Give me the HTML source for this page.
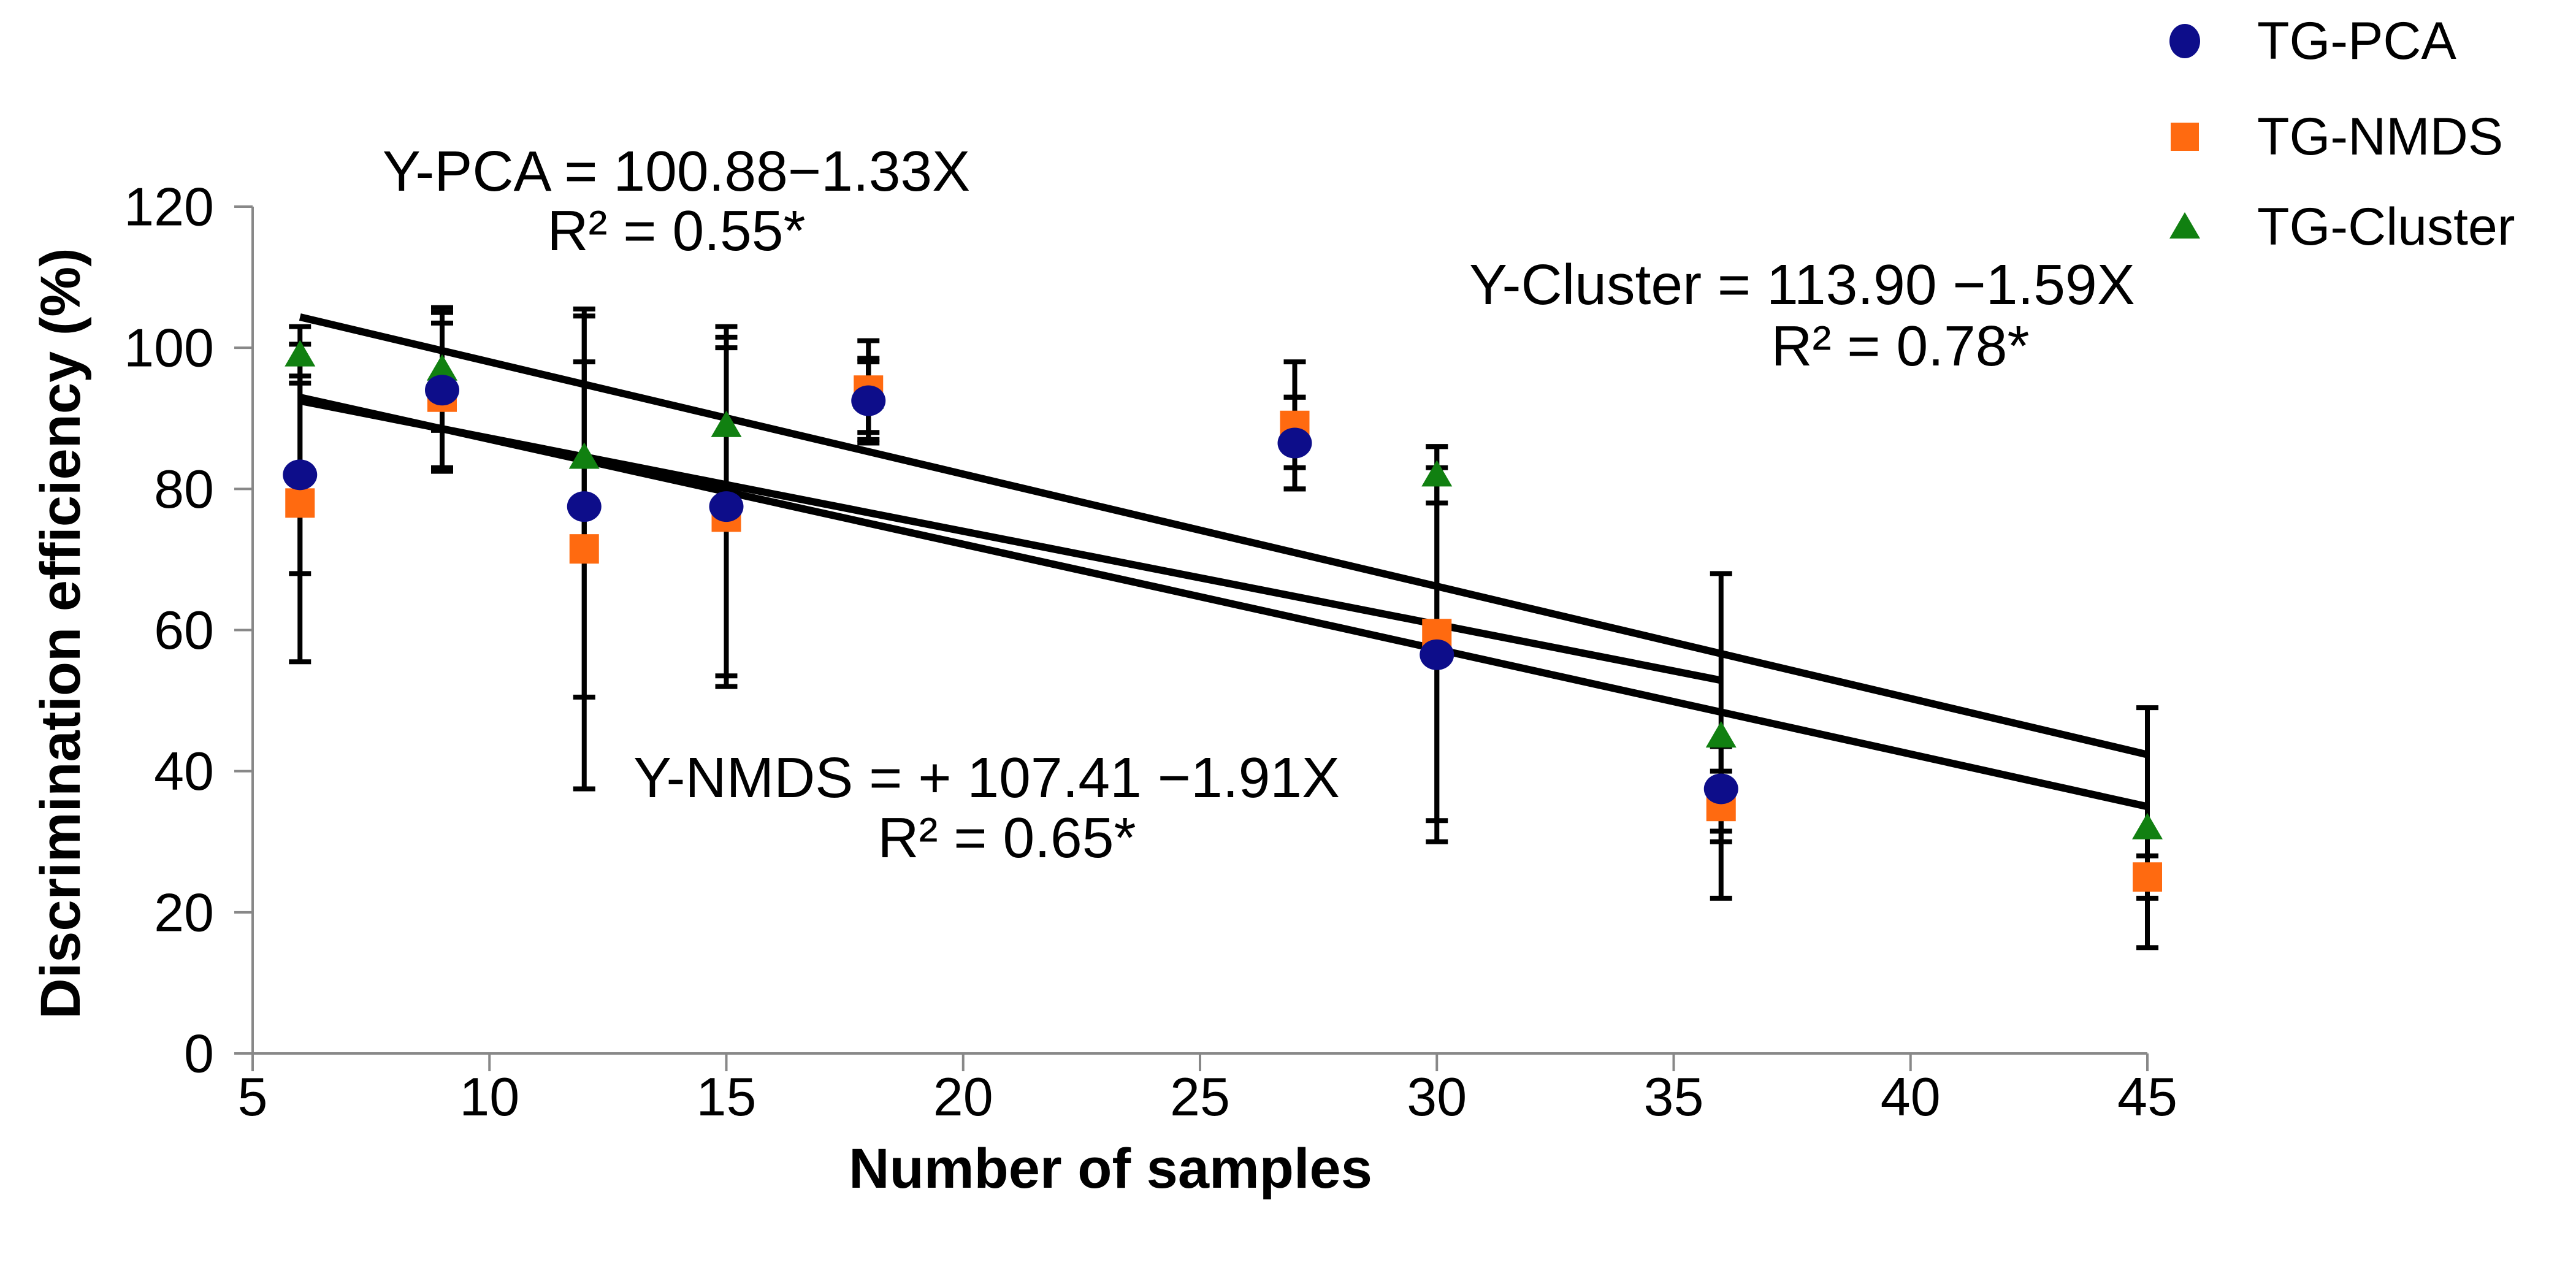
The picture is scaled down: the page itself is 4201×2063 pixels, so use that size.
<!DOCTYPE html>
<html><head><meta charset="utf-8"><style>
html,body{margin:0;padding:0;background:#fff;}
svg{display:block;}
text{font-family:"Liberation Sans",Arial,sans-serif;fill:#000;}
</style></head><body>
<svg id="chart" width="4201" height="2063" viewBox="0 0 4201 2063" xmlns="http://www.w3.org/2000/svg">
<g id="axes"></g>
<g id="fits"></g>
<g id="errs"></g>
<g id="marks"></g>
<text x="1103" y="311" font-size="93" text-anchor="middle">Y-PCA = 100.88−1.33X</text>
<text x="1103" y="408" font-size="93" text-anchor="middle">R² = 0.55*</text>
<text x="2396" y="496" font-size="93">Y-Cluster =  113.90 −1.59X</text>
<text x="3099" y="596" font-size="93" text-anchor="middle">R² = 0.78*</text>
<text x="1033" y="1300" font-size="93">Y-NMDS = + 107.41 −1.91X</text>
<text x="1642" y="1398" font-size="93" text-anchor="middle">R² = 0.65*</text>
<text x="99" y="1033" font-size="92" font-weight="bold" text-anchor="middle" dominant-baseline="central" transform="rotate(-90 99 1033)">Discrimination efficiency (%)</text>
<text x="1811" y="1937" font-size="92" font-weight="bold" text-anchor="middle">Number of samples</text>
<g id="legend"></g>
</svg>
<script>
const xTicks = [5,10,15,20,25,30,35,40,45];
const yTicks = [0,20,40,60,80,100,120];
const xs = [6,9,12,15,18,27,30,36,45];
const pca = [82,94,77.5,77.5,92.5,86.5,56.5,37.5,null];
const pcaErr = [14,11,27,24,6,6.5,26.5,6,null];
const nmds = [78,93,71.5,76,94,89,59.5,35,25];
const nmdsErr = [22.5,10.5,34,24,7,9,26.5,5,3];
const cluster = [99,97,84.5,89,93,88,82,45,32];
const clusterErr = [4,8.7,13.5,14,5,5,4,23,17];
const fitNames = ['pca','nmds','cluster'];
const fitIntercepts = [100.4,101.9,113.9];
const fitSlopes = [-1.32,-1.487,-1.59];
const fitStart = [6,6,6];
const fitEnd = [36,45,45];

const NS='http://www.w3.org/2000/svg';
const X0=412,X1=3502,Y0=1718,Y1=337;
const sx=v=>X0+(v-5)/(45-5)*(X1-X0);
const sy=v=>Y0-(v/120)*(Y0-Y1);
function mk(tag,attrs,parent){const e=document.createElementNS(NS,tag);for(const k in attrs)e.setAttribute(k,attrs[k]);parent.appendChild(e);return e;}
const axes=document.getElementById('axes');
let a=mk('line',{x1:X0,y1:Y1,x2:X0,y2:Y0,stroke:'#888','stroke-width':4},axes);


a=mk('line',{x1:X0,y1:Y0,x2:X1,y2:Y0,stroke:'#888','stroke-width':4},axes);


yTicks.forEach(t=>{const y=sy(t);
 const l=mk('line',{x1:382,y1:y,x2:X0,y2:y,stroke:'#888','stroke-width':4},axes);
 
 
 const tx=mk('text',{x:349,y:y,'font-size':88,'text-anchor':'end','dominant-baseline':'central'},axes);tx.textContent=t;
 
 
});
xTicks.forEach(t=>{const x=sx(t);
 const l=mk('line',{x1:x,y1:Y0,x2:x,y2:1747,stroke:'#888','stroke-width':4},axes);
 
 
 const tx=mk('text',{x:x,y:1819,'font-size':88,'text-anchor':'middle'},axes);tx.textContent=t;
 
 
});
const fits=document.getElementById('fits');
fitNames.forEach((n,i)=>{
 const l=mk('line',{x1:sx(fitStart[i]),y1:sy(fitIntercepts[i]+fitSlopes[i]*fitStart[i]),x2:sx(fitEnd[i]),y2:sy(fitIntercepts[i]+fitSlopes[i]*fitEnd[i]),stroke:'#000','stroke-width':12},fits);
 
 
});
const errs=document.getElementById('errs');
function eb(vals,es,name){vals.forEach((v,i)=>{if(v==null)return;const x=sx(xs[i]);const hi=sy(v+es[i]),lo=sy(v-es[i]);
 const g=mk('g',{stroke:'#000','stroke-width':8},errs);
 
 
 mk('line',{x1:x,y1:hi,x2:x,y2:lo},g);mk('line',{x1:x-18,y1:hi,x2:x+18,y2:hi},g);mk('line',{x1:x-18,y1:lo,x2:x+18,y2:lo},g);});}
eb(pca,pcaErr,'pca');eb(nmds,nmdsErr,'nmds');eb(cluster,clusterErr,'cluster');
const marks=document.getElementById('marks');
function tri(x,y,p){return mk('polygon',{points:`${x},${y-24} ${x-25},${y+19} ${x+25},${y+19}`,fill:'#118011'},p);}
cluster.forEach((v,i)=>{if(v==null)return;const e=tri(sx(xs[i]),sy(v),marks);
 
 });
nmds.forEach((v,i)=>{if(v==null)return;const e=mk('rect',{x:sx(xs[i])-24,y:sy(v)-24,width:48,height:48,fill:'#ff6a10'},marks);
 
 });
pca.forEach((v,i)=>{if(v==null)return;const e=mk('ellipse',{cx:sx(xs[i]),cy:sy(v),rx:28,ry:25,fill:'#0d0d8a'},marks);
 
 });
const lg=document.getElementById('legend');
const legNames=['TG-PCA','TG-NMDS','TG-Cluster'];const legY=[67,223,370];
legNames.forEach((n,i)=>{const g=mk('g',{},lg);
 
 
 const y=legY[i],x=3563;
 if(i==0)mk('ellipse',{cx:x,cy:y,rx:25,ry:28,fill:'#0d0d8a'},g);
 else if(i==1)mk('rect',{x:x-23,y:y-23,width:46,height:46,fill:'#ff6a10'},g);
 else tri(x,y,g);
 const t=mk('text',{x:3681,y:y,'font-size':86,'dominant-baseline':'central'},g);t.textContent=n;});
</script>
</body></html>
